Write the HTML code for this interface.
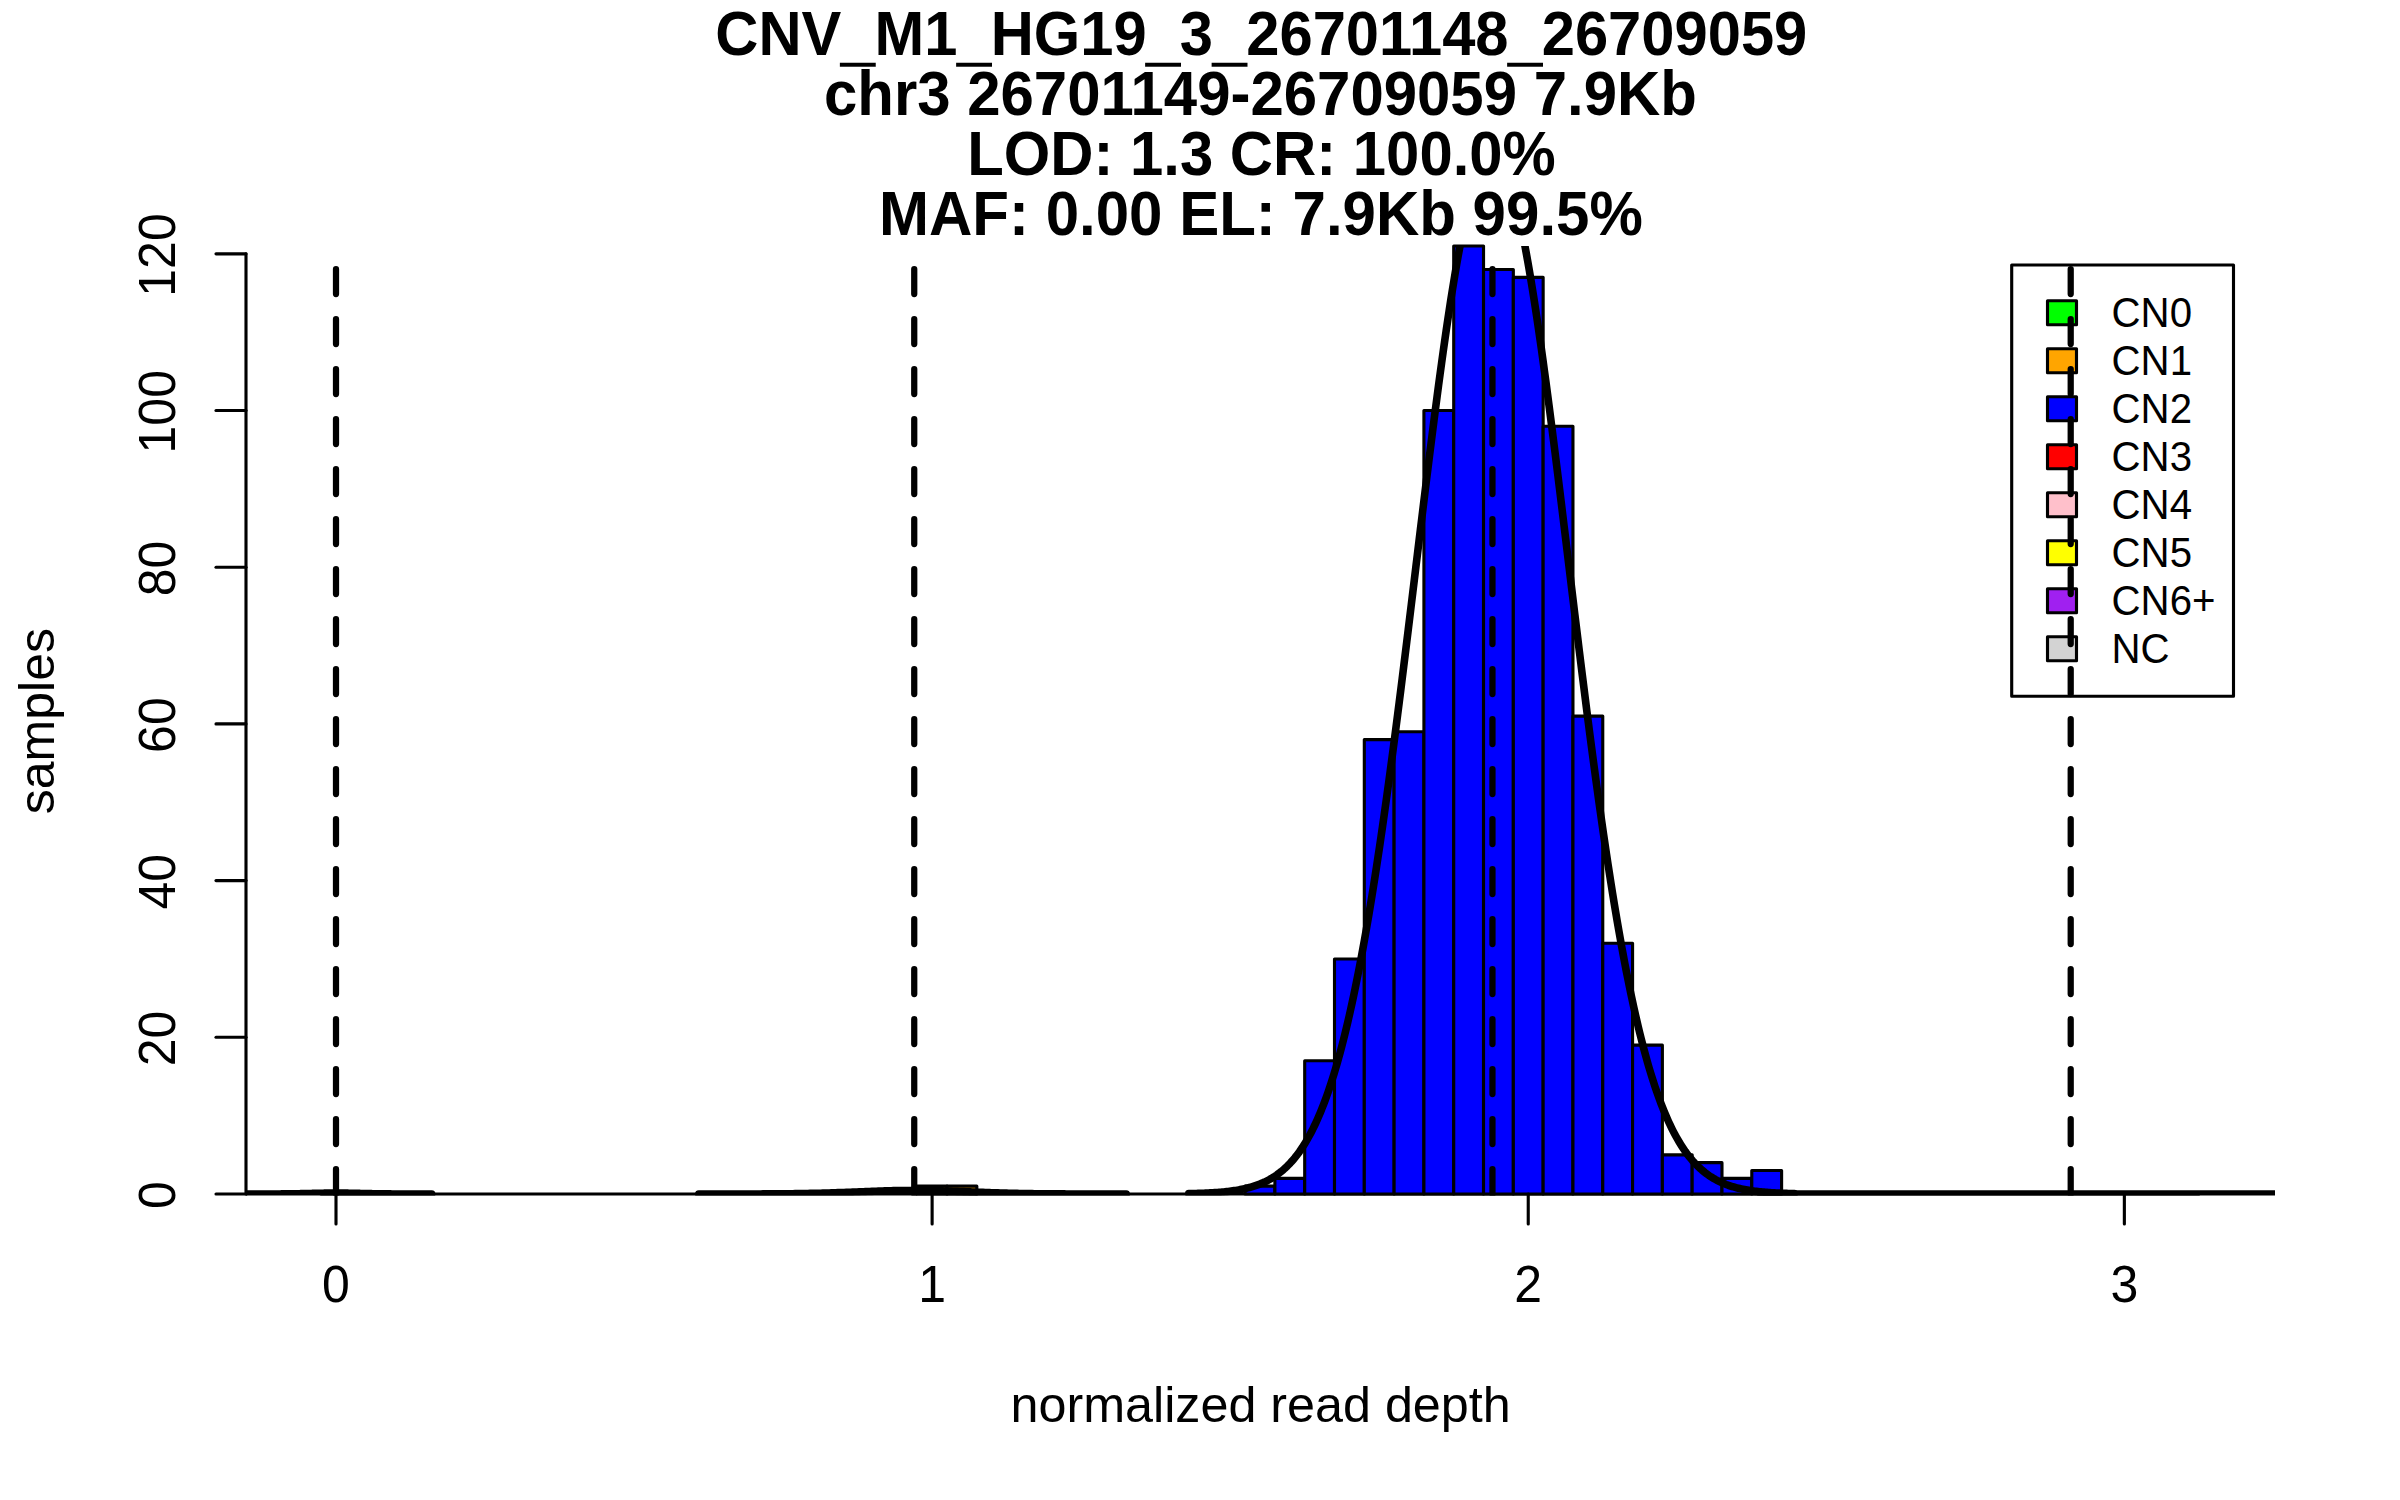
<!DOCTYPE html>
<html lang="en"><head><meta charset="utf-8">
<title>CNV_M1_HG19_3_26701148_26709059</title>
<style>
html,body{margin:0;padding:0;background:#fff;}
body{width:2400px;height:1500px;overflow:hidden;}
svg{display:block;}
text{font-family:"Liberation Sans",Arial,Helvetica,sans-serif;fill:#000;}
.t{font-weight:bold;font-size:60px;text-anchor:middle;}
.u{stroke:#000;stroke-width:1.6;}
.a{font-size:50px;text-anchor:middle;}
.g{font-size:40px;}
.l1{stroke:#000;stroke-width:3.12;stroke-linecap:round;stroke-linejoin:round;fill:none;}
.l2{stroke:#000;stroke-width:6.25;stroke-linecap:round;stroke-linejoin:round;fill:none;}
.l3{stroke:#000;stroke-width:7.6;stroke-linecap:round;stroke-linejoin:round;fill:none;}
.d{stroke:#000;stroke-width:6.25;stroke-linecap:round;stroke-dasharray:25 25;fill:none;}
.b{stroke:#000;stroke-width:3.12;stroke-linejoin:round;}
</style></head><body>
<svg width="2400" height="1500" viewBox="0 0 2400 1500">
<rect width="2400" height="1500" fill="#fff"/>
<defs><clipPath id="pc"><rect x="246" y="246" width="2029" height="949.5"/></clipPath></defs>
<text class="t" transform="translate(1261.3 55) scale(0.995 1.062)">CNV<tspan class="u" dy="2.4">_</tspan><tspan dy="-2.4">M1</tspan><tspan class="u" dy="2.4">_</tspan><tspan dy="-2.4">HG19</tspan><tspan class="u" dy="2.4">_</tspan><tspan dy="-2.4">3</tspan><tspan class="u" dy="2.4">_</tspan><tspan dy="-2.4">26701148</tspan><tspan class="u" dy="2.4">_</tspan><tspan dy="-2.4">26709059</tspan></text>
<text class="t" transform="translate(1260.4 115) scale(0.9988 1.062)">chr3 26701149-26709059 7.9Kb</text>
<text class="t" transform="translate(1261.5 175) scale(0.9976 1.062)">LOD: 1.3 CR: 100.0%</text>
<text class="t" transform="translate(1260.9 235) scale(1.0005 1.062)">MAF: 0.00 EL: 7.9Kb 99.5%</text>
<line class="l1" x1="321.1" y1="1194" x2="2198.88" y2="1194"/>
<rect class="b" fill="#FFA500" x="917.22" y="1186.17" width="29.81" height="7.83"/>
<rect class="b" fill="#FFA500" x="947.02" y="1186.17" width="29.81" height="7.83"/>
<rect class="b" fill="#0000FF" x="1245.08" y="1186.17" width="29.81" height="7.83"/>
<rect class="b" fill="#0000FF" x="1274.89" y="1178.33" width="29.81" height="15.67"/>
<rect class="b" fill="#0000FF" x="1304.7" y="1060.81" width="29.81" height="133.19"/>
<rect class="b" fill="#0000FF" x="1334.5" y="958.96" width="29.81" height="235.04"/>
<rect class="b" fill="#0000FF" x="1364.31" y="739.59" width="29.81" height="454.41"/>
<rect class="b" fill="#0000FF" x="1394.11" y="731.75" width="29.81" height="462.25"/>
<rect class="b" fill="#0000FF" x="1423.92" y="410.53" width="29.81" height="783.47"/>
<rect class="b" fill="#0000FF" x="1453.72" y="246" width="29.81" height="948"/>
<rect class="b" fill="#0000FF" x="1483.53" y="269.5" width="29.81" height="924.5"/>
<rect class="b" fill="#0000FF" x="1513.34" y="277.34" width="29.81" height="916.66"/>
<rect class="b" fill="#0000FF" x="1543.14" y="426.2" width="29.81" height="767.8"/>
<rect class="b" fill="#0000FF" x="1572.95" y="716.08" width="29.81" height="477.92"/>
<rect class="b" fill="#0000FF" x="1602.76" y="943.29" width="29.81" height="250.71"/>
<rect class="b" fill="#0000FF" x="1632.56" y="1045.14" width="29.81" height="148.86"/>
<rect class="b" fill="#0000FF" x="1662.37" y="1154.83" width="29.81" height="39.17"/>
<rect class="b" fill="#0000FF" x="1692.17" y="1162.66" width="29.81" height="31.34"/>
<rect class="b" fill="#0000FF" x="1721.98" y="1178.33" width="29.81" height="15.67"/>
<rect class="b" fill="#0000FF" x="1751.79" y="1170.5" width="29.81" height="23.5"/>
<g clip-path="url(#pc)">
<polyline class="l3" points="216.78,1194 217.85,1194 218.93,1194 220,1194 221.07,1194 222.15,1194 223.22,1194 224.3,1194 225.37,1194 226.45,1194 227.52,1194 228.6,1194 229.67,1194 230.74,1194 231.82,1194 232.89,1194 233.97,1194 235.04,1194 236.12,1194 237.19,1194 238.27,1194 239.34,1194 240.42,1194 241.49,1194 242.56,1194 243.64,1194 244.71,1194 245.79,1194 246.86,1194 247.94,1194 249.01,1194 250.09,1194 251.16,1194 252.23,1194 253.31,1194 254.38,1194 255.46,1194 256.53,1193.99 257.61,1193.99 258.68,1193.99 259.76,1193.99 260.83,1193.99 261.91,1193.99 262.98,1193.99 264.05,1193.99 265.13,1193.98 266.2,1193.98 267.28,1193.98 268.35,1193.98 269.43,1193.97 270.5,1193.97 271.58,1193.97 272.65,1193.96 273.72,1193.96 274.8,1193.96 275.87,1193.95 276.95,1193.95 278.02,1193.94 279.1,1193.93 280.17,1193.93 281.25,1193.92 282.32,1193.91 283.4,1193.9 284.47,1193.89 285.54,1193.88 286.62,1193.87 287.69,1193.86 288.77,1193.85 289.84,1193.83 290.92,1193.82 291.99,1193.81 293.07,1193.79 294.14,1193.78 295.21,1193.76 296.29,1193.74 297.36,1193.72 298.44,1193.7 299.51,1193.68 300.59,1193.66 301.66,1193.64 302.74,1193.62 303.81,1193.6 304.89,1193.57 305.96,1193.55 307.03,1193.53 308.11,1193.5 309.18,1193.48 310.26,1193.45 311.33,1193.43 312.41,1193.4 313.48,1193.38 314.56,1193.35 315.63,1193.33 316.71,1193.31 317.78,1193.28 318.85,1193.26 319.93,1193.24 321,1193.22 322.08,1193.2 323.15,1193.18 324.23,1193.16 325.3,1193.14 326.38,1193.13 327.45,1193.11 328.52,1193.1 329.6,1193.09 330.67,1193.08 331.75,1193.07 332.82,1193.07 333.9,1193.06 334.97,1193.06 336.05,1193.06 337.12,1193.06 338.2,1193.06 339.27,1193.07 340.34,1193.07 341.42,1193.08 342.49,1193.09 343.57,1193.1 344.64,1193.11 345.72,1193.13 346.79,1193.14 347.87,1193.16 348.94,1193.18 350.01,1193.2 351.09,1193.22 352.16,1193.24 353.24,1193.26 354.31,1193.28 355.39,1193.31 356.46,1193.33 357.54,1193.36 358.61,1193.38 359.69,1193.4 360.76,1193.43 361.83,1193.45 362.91,1193.48 363.98,1193.5 365.06,1193.53 366.13,1193.55 367.21,1193.58 368.28,1193.6 369.36,1193.62 370.43,1193.64 371.5,1193.66 372.58,1193.68 373.65,1193.7 374.73,1193.72 375.8,1193.74 376.88,1193.76 377.95,1193.78 379.03,1193.79 380.1,1193.81 381.18,1193.82 382.25,1193.84 383.32,1193.85 384.4,1193.86 385.47,1193.87 386.55,1193.88 387.62,1193.89 388.7,1193.9 389.77,1193.91 390.85,1193.92 391.92,1193.93 393,1193.93 394.07,1193.94 395.14,1193.95 396.22,1193.95 397.29,1193.96 398.37,1193.96 399.44,1193.96 400.52,1193.97 401.59,1193.97 402.67,1193.98 403.74,1193.98 404.81,1193.98 405.89,1193.98 406.96,1193.98 408.04,1193.99 409.11,1193.99 410.19,1193.99 411.26,1193.99 412.34,1193.99 413.41,1193.99 414.49,1193.99 415.56,1193.99 416.63,1194 417.71,1194 418.78,1194 419.86,1194 420.93,1194 422.01,1194 423.08,1194 424.16,1194 425.23,1194 426.3,1194 427.38,1194 428.45,1194 429.53,1194 430.6,1194 431.68,1194"/>
<polyline class="l3" points="698.8,1194 700.94,1194 703.07,1194 705.21,1194 707.35,1194 709.48,1194 711.62,1194 713.76,1194 715.9,1194 718.03,1193.99 720.17,1193.99 722.31,1193.99 724.44,1193.99 726.58,1193.99 728.72,1193.99 730.85,1193.99 732.99,1193.99 735.13,1193.98 737.27,1193.98 739.4,1193.98 741.54,1193.98 743.68,1193.97 745.81,1193.97 747.95,1193.97 750.09,1193.96 752.23,1193.96 754.36,1193.95 756.5,1193.94 758.64,1193.94 760.77,1193.93 762.91,1193.92 765.05,1193.91 767.19,1193.9 769.32,1193.89 771.46,1193.88 773.6,1193.87 775.73,1193.86 777.87,1193.84 780.01,1193.83 782.15,1193.81 784.28,1193.79 786.42,1193.77 788.56,1193.75 790.69,1193.72 792.83,1193.7 794.97,1193.67 797.1,1193.64 799.24,1193.61 801.38,1193.58 803.52,1193.54 805.65,1193.5 807.79,1193.46 809.93,1193.42 812.06,1193.38 814.2,1193.33 816.34,1193.28 818.48,1193.23 820.61,1193.18 822.75,1193.12 824.89,1193.06 827.02,1193 829.16,1192.94 831.3,1192.87 833.44,1192.8 835.57,1192.73 837.71,1192.66 839.85,1192.58 841.98,1192.51 844.12,1192.43 846.26,1192.35 848.39,1192.27 850.53,1192.19 852.67,1192.1 854.81,1192.02 856.94,1191.93 859.08,1191.85 861.22,1191.76 863.35,1191.68 865.49,1191.59 867.63,1191.51 869.77,1191.43 871.9,1191.35 874.04,1191.27 876.18,1191.19 878.31,1191.11 880.45,1191.04 882.59,1190.97 884.73,1190.9 886.86,1190.84 889,1190.78 891.14,1190.72 893.27,1190.67 895.41,1190.62 897.55,1190.58 899.69,1190.54 901.82,1190.51 903.96,1190.48 906.1,1190.46 908.23,1190.44 910.37,1190.43 912.51,1190.42 914.64,1190.42 916.78,1190.42 918.92,1190.43 921.06,1190.44 923.19,1190.47 925.33,1190.49 927.47,1190.52 929.6,1190.56 931.74,1190.6 933.88,1190.64 936.02,1190.69 938.15,1190.74 940.29,1190.8 942.43,1190.86 944.56,1190.93 946.7,1191 948.84,1191.07 950.98,1191.14 953.11,1191.22 955.25,1191.3 957.39,1191.38 959.52,1191.46 961.66,1191.54 963.8,1191.63 965.93,1191.71 968.07,1191.8 970.21,1191.88 972.35,1191.97 974.48,1192.05 976.62,1192.13 978.76,1192.22 980.89,1192.3 983.03,1192.38 985.17,1192.46 987.31,1192.54 989.44,1192.61 991.58,1192.69 993.72,1192.76 995.85,1192.83 997.99,1192.9 1000.13,1192.96 1002.27,1193.02 1004.4,1193.08 1006.54,1193.14 1008.68,1193.2 1010.81,1193.25 1012.95,1193.3 1015.09,1193.35 1017.23,1193.39 1019.36,1193.44 1021.5,1193.48 1023.64,1193.52 1025.77,1193.56 1027.91,1193.59 1030.05,1193.62 1032.18,1193.65 1034.32,1193.68 1036.46,1193.71 1038.6,1193.73 1040.73,1193.76 1042.87,1193.78 1045.01,1193.8 1047.14,1193.81 1049.28,1193.83 1051.42,1193.85 1053.56,1193.86 1055.69,1193.87 1057.83,1193.89 1059.97,1193.9 1062.1,1193.91 1064.24,1193.92 1066.38,1193.93 1068.52,1193.93 1070.65,1193.94 1072.79,1193.95 1074.93,1193.95 1077.06,1193.96 1079.2,1193.96 1081.34,1193.97 1083.47,1193.97 1085.61,1193.97 1087.75,1193.98 1089.89,1193.98 1092.02,1193.98 1094.16,1193.98 1096.3,1193.99 1098.43,1193.99 1100.57,1193.99 1102.71,1193.99 1104.85,1193.99 1106.98,1193.99 1109.12,1193.99 1111.26,1193.99 1113.39,1194 1115.53,1194 1117.67,1194 1119.81,1194 1121.94,1194 1124.08,1194 1126.22,1194"/>
<polyline class="l3" points="1188.81,1193.62 1190.32,1193.59 1191.84,1193.56 1193.35,1193.52 1194.86,1193.48 1196.38,1193.44 1197.89,1193.4 1199.4,1193.35 1200.92,1193.3 1202.43,1193.24 1203.94,1193.18 1205.46,1193.12 1206.97,1193.05 1208.49,1192.98 1210,1192.9 1211.51,1192.82 1213.03,1192.73 1214.54,1192.64 1216.05,1192.53 1217.57,1192.42 1219.08,1192.31 1220.59,1192.18 1222.11,1192.05 1223.62,1191.91 1225.13,1191.76 1226.65,1191.6 1228.16,1191.43 1229.68,1191.24 1231.19,1191.05 1232.7,1190.84 1234.22,1190.62 1235.73,1190.39 1237.24,1190.14 1238.76,1189.88 1240.27,1189.6 1241.78,1189.3 1243.3,1188.98 1244.81,1188.65 1246.32,1188.29 1247.84,1187.92 1249.35,1187.52 1250.86,1187.1 1252.38,1186.65 1253.89,1186.18 1255.41,1185.68 1256.92,1185.15 1258.43,1184.6 1259.95,1184.01 1261.46,1183.39 1262.97,1182.74 1264.49,1182.05 1266,1181.32 1267.51,1180.55 1269.03,1179.74 1270.54,1178.89 1272.05,1178 1273.57,1177.06 1275.08,1176.07 1276.6,1175.03 1278.11,1173.94 1279.62,1172.8 1281.14,1171.6 1282.65,1170.34 1284.16,1169.01 1285.68,1167.63 1287.19,1166.18 1288.7,1164.66 1290.22,1163.07 1291.73,1161.4 1293.24,1159.66 1294.76,1157.85 1296.27,1155.95 1297.78,1153.96 1299.3,1151.89 1300.81,1149.73 1302.33,1147.48 1303.84,1145.13 1305.35,1142.69 1306.87,1140.14 1308.38,1137.49 1309.89,1134.73 1311.41,1131.86 1312.92,1128.88 1314.43,1125.78 1315.95,1122.57 1317.46,1119.23 1318.97,1115.76 1320.49,1112.17 1322,1108.44 1323.52,1104.58 1325.03,1100.59 1326.54,1096.45 1328.06,1092.17 1329.57,1087.74 1331.08,1083.17 1332.6,1078.44 1334.11,1073.56 1335.62,1068.53 1337.14,1063.33 1338.65,1057.97 1340.16,1052.45 1341.68,1046.76 1343.19,1040.9 1344.7,1034.88 1346.22,1028.68 1347.73,1022.31 1349.25,1015.76 1350.76,1009.03 1352.27,1002.13 1353.79,995.05 1355.3,987.78 1356.81,980.34 1358.33,972.71 1359.84,964.9 1361.35,956.91 1362.87,948.74 1364.38,940.39 1365.89,931.85 1367.41,923.14 1368.92,914.24 1370.44,905.17 1371.95,895.91 1373.46,886.49 1374.98,876.89 1376.49,867.12 1378,857.18 1379.52,847.07 1381.03,836.8 1382.54,826.37 1384.06,815.79 1385.57,805.06 1387.08,794.18 1388.6,783.15 1390.11,771.99 1391.62,760.69 1393.14,749.27 1394.65,737.73 1396.17,726.07 1397.68,714.3 1399.19,702.43 1400.71,690.46 1402.22,678.4 1403.73,666.27 1405.25,654.06 1406.76,641.78 1408.27,629.45 1409.79,617.07 1411.3,604.65 1412.81,592.2 1414.33,579.73 1415.84,567.25 1417.36,554.76 1418.87,542.29 1420.38,529.83 1421.9,517.4 1423.41,505 1424.92,492.66 1426.44,480.38 1427.95,468.16 1429.46,456.03 1430.98,443.99 1432.49,432.05 1434,420.23 1435.52,408.54 1437.03,396.98 1438.54,385.56 1440.06,374.31 1441.57,363.23 1443.09,352.33 1444.6,341.62 1446.11,331.12 1447.63,320.83 1449.14,310.76 1450.65,300.93 1452.17,291.35 1453.68,282.02 1455.19,272.96 1456.71,264.17 1458.22,255.67 1459.73,247.46 1461.25,239.56 1462.76,231.97 1464.28,224.7 1465.79,217.76 1467.3,211.16 1468.82,204.9 1470.33,199 1471.84,193.45 1473.36,188.27 1474.87,183.46 1476.38,179.02 1477.9,174.97 1479.41,171.3 1480.92,168.02 1482.44,165.14 1483.95,162.66 1485.46,160.57 1486.98,158.89 1488.49,157.62 1490.01,156.75 1491.52,156.29 1493.03,156.23 1494.55,156.59 1496.06,157.35 1497.57,158.52 1499.09,160.1 1500.6,162.07 1502.11,164.46 1503.63,167.23 1505.14,170.41 1506.65,173.97 1508.17,177.93 1509.68,182.26 1511.2,186.98 1512.71,192.07 1514.22,197.52 1515.74,203.33 1517.25,209.5 1518.76,216.01 1520.28,222.86 1521.79,230.05 1523.3,237.55 1524.82,245.38 1526.33,253.5 1527.84,261.93 1529.36,270.64 1530.87,279.63 1532.38,288.89 1533.9,298.41 1535.41,308.18 1536.93,318.18 1538.44,328.42 1539.95,338.87 1541.47,349.52 1542.98,360.37 1544.49,371.41 1546.01,382.62 1547.52,393.99 1549.03,405.51 1550.55,417.17 1552.06,428.96 1553.57,440.87 1555.09,452.89 1556.6,465 1558.12,477.19 1559.63,489.46 1561.14,501.78 1562.66,514.17 1564.17,526.59 1565.68,539.04 1567.2,551.52 1568.71,564 1570.22,576.48 1571.74,588.96 1573.25,601.41 1574.76,613.84 1576.28,626.23 1577.79,638.58 1579.3,650.87 1580.82,663.1 1582.33,675.25 1583.85,687.33 1585.36,699.32 1586.87,711.22 1588.39,723.01 1589.9,734.7 1591.41,746.28 1592.93,757.73 1594.44,769.06 1595.95,780.26 1597.47,791.32 1598.98,802.24 1600.49,813.01 1602.01,823.63 1603.52,834.1 1605.04,844.41 1606.55,854.56 1608.06,864.54 1609.58,874.36 1611.09,884 1612.6,893.48 1614.12,902.77 1615.63,911.89 1617.14,920.84 1618.66,929.6 1620.17,938.18 1621.68,946.58 1623.2,954.8 1624.71,962.84 1626.22,970.7 1627.74,978.37 1629.25,985.86 1630.77,993.17 1632.28,1000.3 1633.79,1007.25 1635.31,1014.02 1636.82,1020.62 1638.33,1027.04 1639.85,1033.28 1641.36,1039.35 1642.87,1045.25 1644.39,1050.98 1645.9,1056.55 1647.41,1061.95 1648.93,1067.19 1650.44,1072.27 1651.96,1077.19 1653.47,1081.95 1654.98,1086.57 1656.5,1091.03 1658.01,1095.35 1659.52,1099.52 1661.04,1103.56 1662.55,1107.45 1664.06,1111.21 1665.58,1114.84 1667.09,1118.34 1668.6,1121.71 1670.12,1124.96 1671.63,1128.09 1673.14,1131.1 1674.66,1134 1676.17,1136.78 1677.69,1139.46 1679.2,1142.04 1680.71,1144.51 1682.23,1146.88 1683.74,1149.16 1685.25,1151.34 1686.77,1153.43 1688.28,1155.44 1689.79,1157.36 1691.31,1159.2 1692.82,1160.96 1694.33,1162.64 1695.85,1164.25 1697.36,1165.79 1698.88,1167.26 1700.39,1168.66 1701.9,1170 1703.42,1171.27 1704.93,1172.49 1706.44,1173.65 1707.96,1174.75 1709.47,1175.81 1710.98,1176.81 1712.5,1177.76 1714.01,1178.67 1715.52,1179.53 1717.04,1180.35 1718.55,1181.12 1720.06,1181.86 1721.58,1182.56 1723.09,1183.22 1724.61,1183.85 1726.12,1184.45 1727.63,1185.01 1729.15,1185.55 1730.66,1186.05 1732.17,1186.53 1733.69,1186.98 1735.2,1187.41 1736.71,1187.82 1738.23,1188.2 1739.74,1188.56 1741.25,1188.9 1742.77,1189.22 1744.28,1189.52 1745.8,1189.81 1747.31,1190.07 1748.82,1190.33 1750.34,1190.56 1751.85,1190.79 1753.36,1191 1754.88,1191.19 1756.39,1191.38 1757.9,1191.55 1759.42,1191.72 1760.93,1191.87 1762.44,1192.01 1763.96,1192.15 1765.47,1192.28 1766.98,1192.39 1768.5,1192.51 1770.01,1192.61 1771.53,1192.71 1773.04,1192.8 1774.55,1192.88 1776.07,1192.96 1777.58,1193.04 1779.09,1193.1 1780.61,1193.17 1782.12,1193.23 1783.63,1193.28 1785.15,1193.34 1786.66,1193.39 1788.17,1193.43 1789.69,1193.47 1791.2,1193.51 1792.72,1193.55 1794.23,1193.58"/>
<polyline class="l3" points="1760.73,1194 1896.34,1194 2031.96,1194 2167.58,1194 2303.2,1194"/>
</g>
<path class="l1" d="M246 1194 V253.83"/>
<path class="l1" d="M246 1194 H216"/>
<text class="a" transform="translate(174.5 1195.2) rotate(-90) scale(1 1.035)">0</text>
<path class="l1" d="M246 1037.31 H216"/>
<text class="a" transform="translate(174.5 1038.51) rotate(-90) scale(1 1.035)">20</text>
<path class="l1" d="M246 880.61 H216"/>
<text class="a" transform="translate(174.5 881.81) rotate(-90) scale(1 1.035)">40</text>
<path class="l1" d="M246 723.92 H216"/>
<text class="a" transform="translate(174.5 725.12) rotate(-90) scale(1 1.035)">60</text>
<path class="l1" d="M246 567.22 H216"/>
<text class="a" transform="translate(174.5 568.42) rotate(-90) scale(1 1.035)">80</text>
<path class="l1" d="M246 410.53 H216"/>
<text class="a" transform="translate(174.5 411.73) rotate(-90) scale(1 1.035)">100</text>
<path class="l1" d="M246 253.83 H216"/>
<text class="a" transform="translate(174.5 255.03) rotate(-90) scale(1 1.035)">120</text>
<path class="l1" d="M336 1194 V1224"/>
<text class="a" transform="translate(336 1302) scale(1 1.035)">0</text>
<path class="l1" d="M932.12 1194 V1224"/>
<text class="a" transform="translate(932.12 1302) scale(1 1.035)">1</text>
<path class="l1" d="M1528.24 1194 V1224"/>
<text class="a" transform="translate(1528.24 1302) scale(1 1.035)">2</text>
<path class="l1" d="M2124.36 1194 V1224"/>
<text class="a" transform="translate(2124.36 1302) scale(1 1.035)">3</text>
<text class="a" transform="translate(1260.6 1422) scale(1.0058 0.99)">normalized read depth</text>
<text class="a" transform="translate(54 721.1) rotate(-90) scale(1 0.99)">samples</text>
<rect class="b" fill="#fff" x="2011.7" y="265" width="221.8" height="431.2"/>
<rect class="b" fill="#00FF00" x="2047.5" y="300.8" width="29" height="24"/>
<text class="g" transform="translate(2111.6 327.1) scale(1.005 1.055)">CN0</text>
<rect class="b" fill="#FFA500" x="2047.5" y="348.8" width="29" height="24"/>
<text class="g" transform="translate(2111.6 375.1) scale(1.005 1.055)">CN1</text>
<rect class="b" fill="#0000FF" x="2047.5" y="396.8" width="29" height="24"/>
<text class="g" transform="translate(2111.6 423.1) scale(1.005 1.055)">CN2</text>
<rect class="b" fill="#FF0000" x="2047.5" y="444.8" width="29" height="24"/>
<text class="g" transform="translate(2111.6 471.1) scale(1.005 1.055)">CN3</text>
<rect class="b" fill="#FFC0CB" x="2047.5" y="492.8" width="29" height="24"/>
<text class="g" transform="translate(2111.6 519.1) scale(1.005 1.055)">CN4</text>
<rect class="b" fill="#FFFF00" x="2047.5" y="540.8" width="29" height="24"/>
<text class="g" transform="translate(2111.6 567.1) scale(1.005 1.055)">CN5</text>
<rect class="b" fill="#A020F0" x="2047.5" y="588.8" width="29" height="24"/>
<text class="g" transform="translate(2111.6 615.1) scale(1.005 1.055)">CN6+</text>
<rect class="b" fill="#D3D3D3" x="2047.5" y="636.8" width="29" height="24"/>
<text class="g" transform="translate(2111.6 663.1) scale(1.005 1.055)">NC</text>
<g clip-path="url(#pc)">
<path class="d" d="M336 1194 V269"/>
<path class="d" d="M914.24 1194 V269"/>
<path class="d" d="M1492.47 1194 V269"/>
<path class="d" d="M2070.71 1194 V269"/>
</g>
</svg></body></html>
